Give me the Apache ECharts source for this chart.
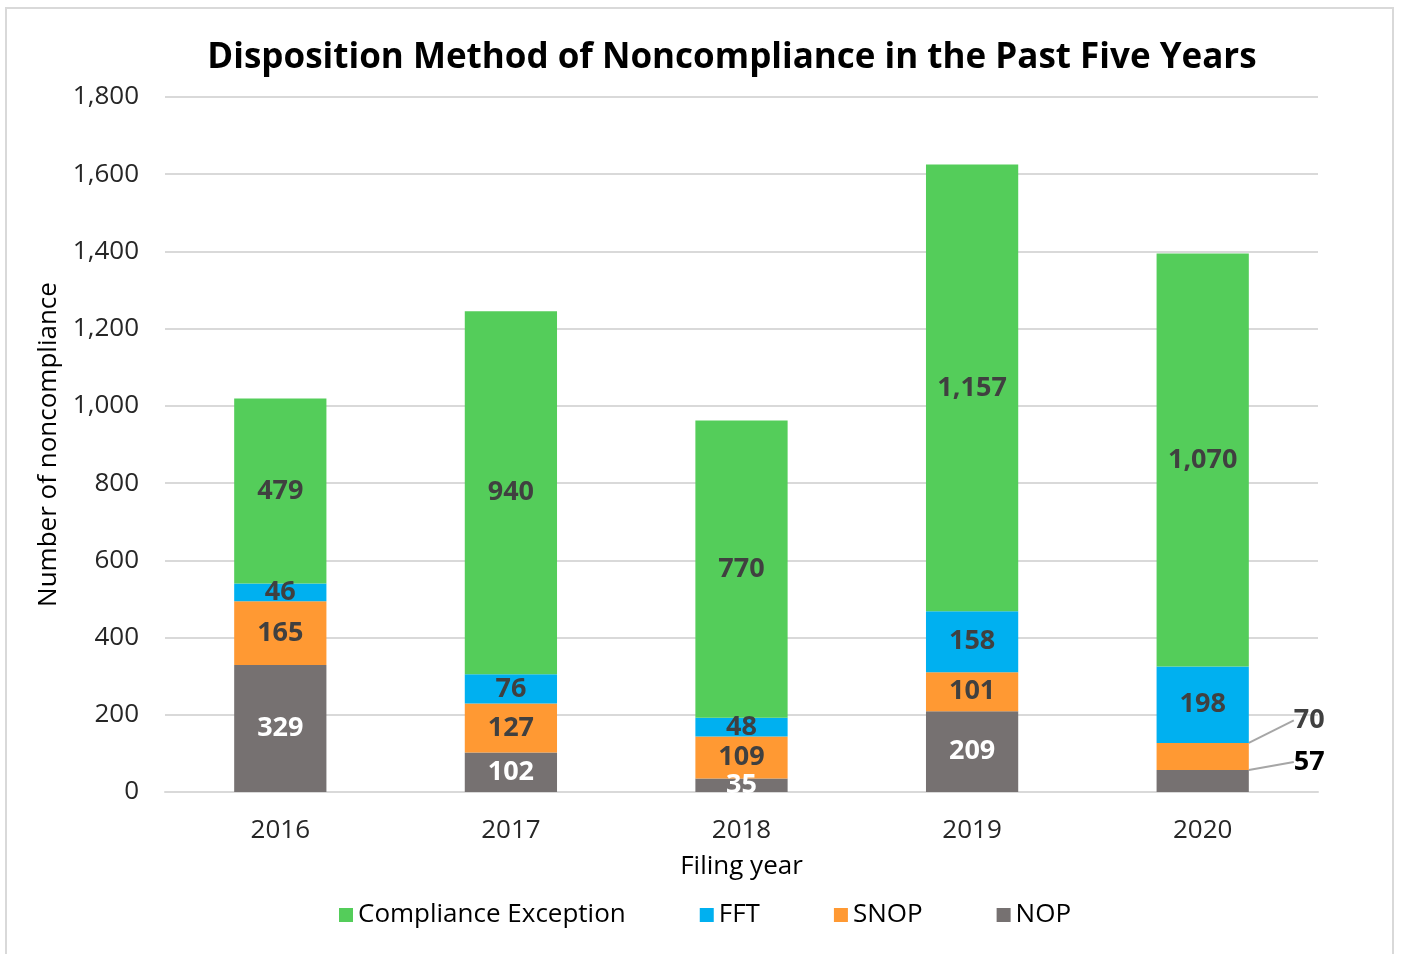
<!DOCTYPE html>
<html>
<head>
<meta charset="utf-8">
<script src="https://cdn.jsdelivr.net/npm/echarts@6/dist/echarts.min.js"></script>
<style>
  html, body { margin: 0; padding: 0; background: #fff; }
  #chart { width: 1403px; height: 954px; }
  .frame { position: absolute; left: 5px; top: 7px; width: 1389px; height: 950px; border: 2px solid #d9d9d9; box-sizing: border-box; pointer-events: none; }
</style>
</head>
<body>
<div id="chart"></div>
<div class="frame"></div>
<script>
const years = ["2016", "2017", "2018", "2019", "2020"];
const nop = [329, 102, 35, 209, 57];
const snop = [165, 127, 109, 101, 70];
const fft = [46, 76, 48, 158, 198];
const compliance = [479, 940, 770, 1157, 1070];
const yTicks = [0, 200, 400, 600, 800, 1000, 1200, 1400, 1600, 1800];

const font = "Open Sans";
const fmt = (v) => Number(v).toLocaleString("en-US");

let myChart = echarts.init(document.getElementById("chart"));

function labelFor(color) {
  return {
    show: true,
    position: "inside",
    color: color,
    fontFamily: font,
    fontWeight: "bold",
    fontSize: 27,
    formatter: (p) => fmt(p.value),
  };
}

// small bars in 2020 get their label pushed out to the right with a leader line
function withOutside(values, outsideColor) {
  return values.map((v, i) => {
    if (i !== 4) return v;
    return {
      value: v,
      label: { position: "right", color: outsideColor, fontSize: 27 },
    };
  });
}

const leader = { show: true, lineStyle: { color: "#a6a6a6", width: 2 } };

let option = {
  animation: false,
  title: {
    text: "Disposition Method of Noncompliance in the Past Five Years",
    left: 727,
    textAlign: "center",
    top: 36,
    textStyle: { fontFamily: font, fontWeight: "bold", fontSize: 35, color: "#000" },
  },
  grid: { left: 165, right: 85, top: 97, bottom: 162 },
  legend: {
    data: ["Compliance Exception", "FFT", "SNOP", "NOP"],
    left: 334,
    top: 897,
    icon: "rect",
    itemWidth: 14,
    itemHeight: 14,
    itemGap: 74,
    textStyle: { fontFamily: font, fontSize: 26, color: "#000" },
  },
  xAxis: {
    type: "category",
    data: years,
    name: "Filing year",
    nameLocation: "middle",
    nameGap: 62,
    nameTextStyle: { fontFamily: font, fontSize: 26, color: "#000" },
    axisLine: { lineStyle: { color: "#d9d9d9", width: 2 } },
    axisTick: { show: false },
    axisLabel: { fontFamily: font, fontSize: 26, color: "#262626", margin: 26 },
  },
  yAxis: {
    type: "value",
    min: 0,
    max: yTicks[yTicks.length - 1],
    interval: 200,
    name: "Number of noncompliance",
    nameLocation: "middle",
    nameGap: 94,
    nameTextStyle: { fontFamily: font, fontSize: 26, color: "#000" },
    axisLine: { show: false },
    axisTick: { show: false },
    splitLine: { lineStyle: { color: "#d9d9d9", width: 2 } },
    axisLabel: { fontFamily: font, fontSize: 26, color: "#262626", margin: 26, formatter: fmt },
  },
  series: [
    {
      name: "NOP",
      type: "bar",
      stack: "all",
      barWidth: "40%",
      data: withOutside(nop, "#000"),
      itemStyle: { color: "#767171" },
      label: labelFor("#fff"),
      labelLine: leader,
      labelLayout: (p) => (p.dataIndex === 4 ? { dx: 40, dy: -19 } : {}),
    },
    {
      name: "SNOP",
      type: "bar",
      stack: "all",
      data: withOutside(snop, "#404040"),
      itemStyle: { color: "#ff9933" },
      label: labelFor("#404040"),
      labelLine: leader,
      labelLayout: (p) => (p.dataIndex === 4 ? { dx: 40, dy: -36 } : {}),
    },
    {
      name: "FFT",
      type: "bar",
      stack: "all",
      data: fft,
      itemStyle: { color: "#00b0f0" },
      label: labelFor("#404040"),
    },
    {
      name: "Compliance Exception",
      type: "bar",
      stack: "all",
      data: compliance,
      itemStyle: { color: "#54cd5a" },
      label: labelFor("#404040"),
    },
  ],
};

myChart.setOption(option);
</script>
</body>
</html>
